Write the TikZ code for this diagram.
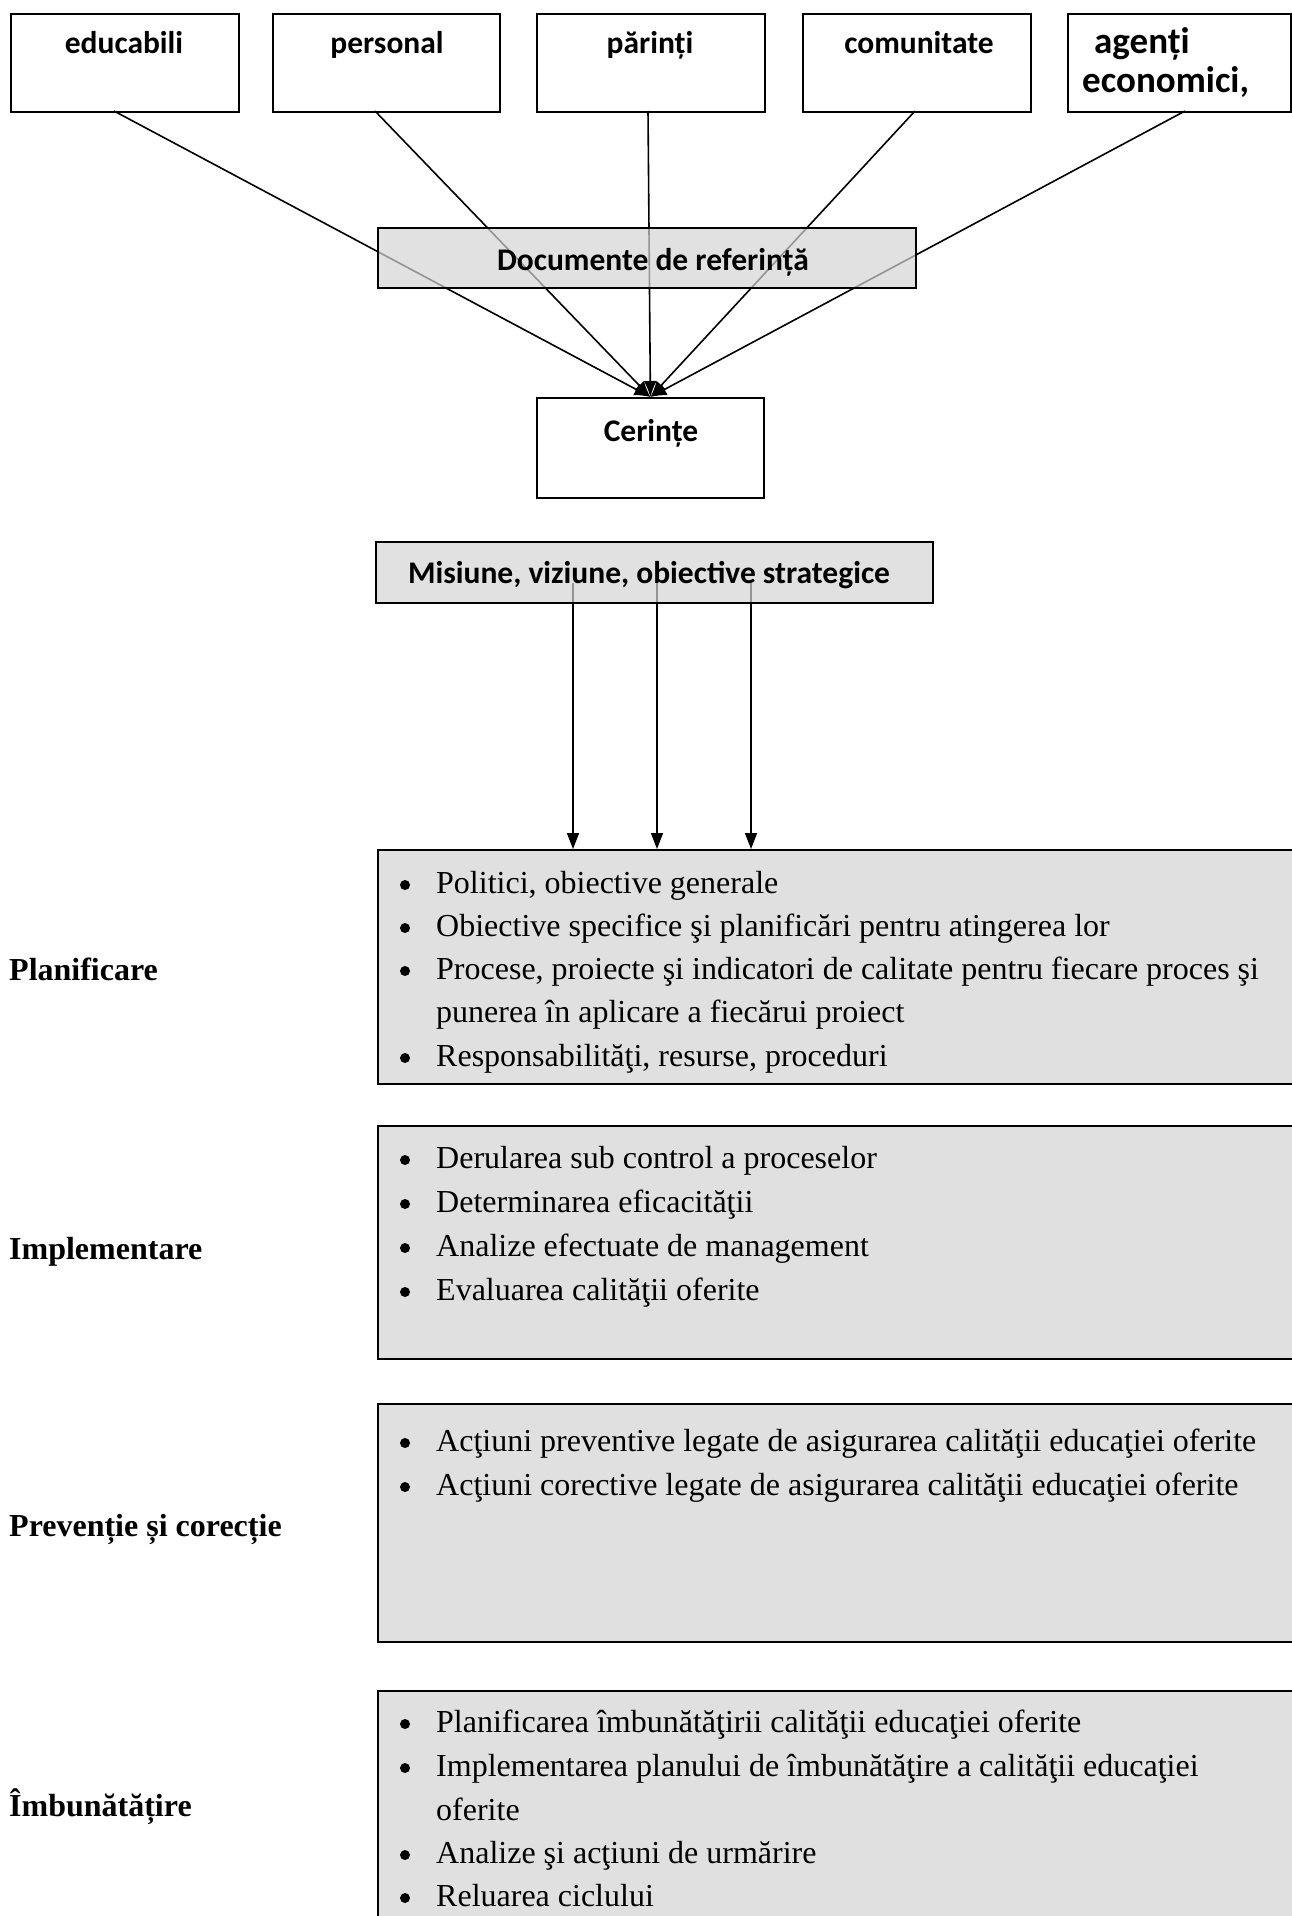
\documentclass[tikz,border=0pt]{standalone}
\usepackage{fontspec}
\setmainfont{Liberation Serif}
\newfontfamily\carl{Carlito}
\usetikzlibrary{arrows.meta}
\definecolor{boxgray}{HTML}{E0E0E0}
\definecolor{semigray}{HTML}{D4D4D4}
\pgfdeclarelayer{bg}
\pgfsetlayers{bg,main}
\tikzset{
  topbox/.style={draw, line width=1.8pt, minimum height=98pt, anchor=north west, inner sep=0pt},
  semibox/.style={draw, line width=1.8pt, fill=semigray, fill opacity=0.7, draw opacity=1, anchor=north west, inner sep=0pt},
  listbox/.style={draw, line width=2pt, fill=boxgray, anchor=north west, inner sep=0pt, minimum width=921pt},
  toptxt/.style={font=\carl\bfseries\fontsize{31.5}{38}\selectfont, anchor=base, inner sep=0pt},
  agtxt/.style={font=\carl\bfseries\fontsize{37}{44}\selectfont, anchor=base west, inner sep=0pt},
  conn/.style={line width=1.6pt, -{Latex[length=16pt,width=13pt]}},
  arr/.style={line width=1.6pt, -{Triangle[length=16pt,width=12pt]}},
  bul/.style={circle, fill, inner sep=0pt, minimum size=10pt},
  itxt/.style={font=\fontsize{32}{38}\selectfont, anchor=base west, inner sep=0pt},
  lab/.style={font=\bfseries\fontsize{32}{38}\selectfont, anchor=base west, inner sep=0pt}
}
\newcommand{\myitem}[3]{\node[bul] (#1b) at (405,#2-8) {}; \node[itxt] (#1) at (436,#2) {#3};}
\newcommand{\mycont}[3]{\node[itxt] (#1) at (436,#2) {#3};}
\begin{document}
\begin{tikzpicture}[x=1pt,y=-1pt]
\useasboundingbox (0,0) rectangle (1291,1916);
% top boxes
\node[topbox, minimum width=228pt] (edu) at (10,13) {};
\node[topbox, minimum width=227pt] (pers) at (272,13) {};
\node[topbox, minimum width=228pt] (par) at (536,13) {};
\node[topbox, minimum width=228pt] (com) at (802,13) {};
\node[topbox, minimum width=223pt] (ag) at (1067,13) {};
\node[toptxt] (edut) at (124,54) {educabili};
\node[toptxt] (perst) at (387,54) {personal};
\node[toptxt] (part) at (650,54) {părinți};
\node[toptxt] (comt) at (919,54) {comunitate};
\node[agtxt] (agt1) at (1094,54) {agenți};
\node[agtxt] (agt2) at (1082,93) {economici,};
% documente
\node[semibox, minimum width=538pt, minimum height=60pt] (doc) at (377,227) {};
\node[toptxt] (doct) at (653,270) {Documente de referință};
% cerinte
\node[draw, line width=1.8pt, minimum width=227pt, minimum height=100pt, anchor=north west, inner sep=0pt] (cer) at (536,397) {};
\node[toptxt] (cert) at (651,441) {Cerințe};
% misiune
\node[semibox, minimum width=557pt, minimum height=61pt] (mis) at (375,541) {};
\node[toptxt] (mist) at (649,583) {Misiune, viziune, obiective strategice};
% list boxes
\node[listbox, minimum height=234pt] (plan) at (377,849) {};
\node[listbox, minimum height=233pt] (impl) at (377,1125) {};
\node[listbox, minimum height=238pt] (prev) at (377,1403) {};
\node[listbox, minimum height=245pt] (imb) at (377,1690) {};
% connector end points
\coordinate (s1) at (114,111);
\coordinate (s2) at (375,111);
\coordinate (s3) at (648,111);
\coordinate (s4) at (915,111);
\coordinate (s5) at (1185,111);
\coordinate (m1) at (573,583);
\coordinate (m2) at (657,583);
\coordinate (m3) at (751,583);
\begin{pgfonlayer}{bg}
\foreach \s in {s1,s2,s3,s4,s5} \draw[conn] (\s) -- (cer.north);
\foreach \m in {m1,m2,m3} \draw[arr] (\m) -- (\m |- plan.north);
\end{pgfonlayer}
% labels
\node[lab] (lplan) at (9,980) {Planificare};
\node[lab] (limpl) at (9,1259) {Implementare};
\node[lab] (lprev) at (9,1536) {Prevenție și corecție};
\node[lab] (limb) at (9,1816) {Îmbunătățire};
% planificare items
\myitem{pa}{893}{Politici, obiective generale}
\myitem{pb}{936}{Obiective specifice şi planificări pentru atingerea lor}
\myitem{pc}{979}{Procese, proiecte şi indicatori de calitate pentru fiecare proces şi}
\mycont{pd}{1022}{punerea în aplicare a fiecărui proiect}
\myitem{pe}{1066}{Responsabilităţi, resurse, proceduri}
% implementare items
\myitem{ia}{1168}{Derularea sub control a proceselor}
\myitem{ib}{1212}{Determinarea eficacităţii}
\myitem{ic}{1256}{Analize efectuate de management}
\myitem{id}{1300}{Evaluarea calităţii oferite}
% preventie items
\myitem{ra}{1451}{Acţiuni preventive legate de asigurarea calităţii educaţiei oferite}
\myitem{rb}{1495}{Acţiuni corective legate de asigurarea calităţii educaţiei oferite}
% imbunatatire items
\myitem{ea}{1732}{Planificarea îmbunătăţirii calităţii educaţiei oferite}
\myitem{eb}{1776}{Implementarea planului de îmbunătăţire a calităţii educaţiei}
\mycont{ec}{1820}{oferite}
\myitem{ed}{1863}{Analize şi acţiuni de urmărire}
\myitem{ee}{1906}{Reluarea ciclului}
\end{tikzpicture}
\end{document}
